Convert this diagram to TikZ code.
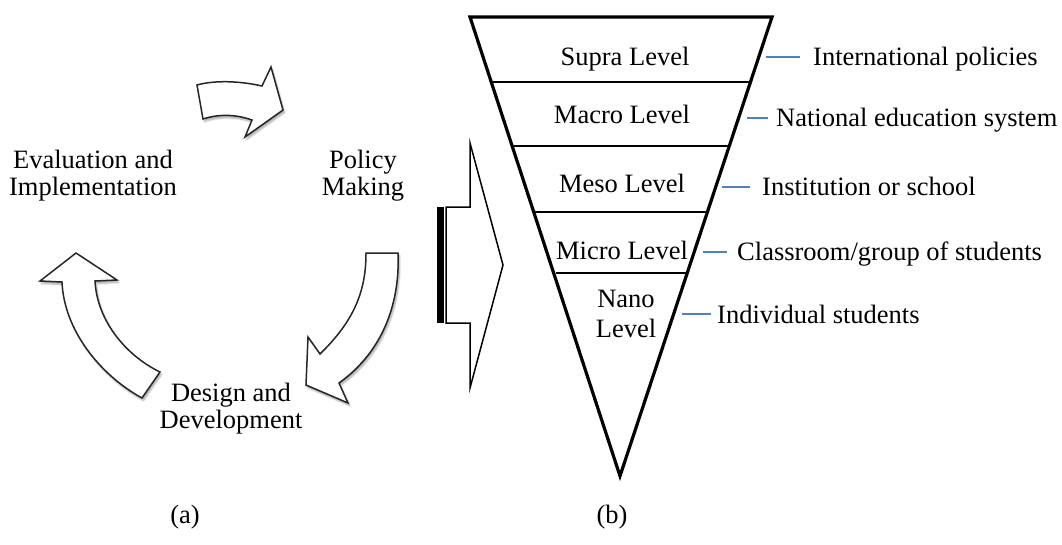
\documentclass[tikz,border=0pt]{standalone}
\usepackage{fontspec}
\setmainfont{Liberation Serif}
\usetikzlibrary{shadows.blur}
\definecolor{levelblue}{HTML}{4F81BD}
\begin{document}
\begin{tikzpicture}[x=1pt,y=-1pt,
  every node/.style={font=\fontsize{26.5}{27}\selectfont, inner sep=0pt},
  label/.style={anchor=base},
  sidelabel/.style={anchor=base west},
  cyclearrow/.style={draw=black!85, line width=1.5pt, fill=white, line join=miter,
    blur shadow={shadow xshift=1.5pt, shadow yshift=-2.5pt, shadow blur steps=6, shadow opacity=35}},
  blockarrow/.style={draw=black, line width=1.5pt, fill=white, line join=miter},
  funnel/.style={draw=black, line width=3.2pt, line join=miter},
  divider/.style={draw=black, line width=2pt},
  tick/.style={draw=levelblue, line width=1.5pt}
]
\useasboundingbox (0,0) rectangle (1062,544);

% ---------- (a) policy cycle ----------
% multi-line labels are placed by the baseline of their last line
\node[label, align=center] (evl) at (93,195) {Evaluation and\\Implementation};
\node[label, align=center] (pol) at (363,195) {Policy\\Making};
\node[label, align=center] (des) at (231,428) {Design and\\Development};

% upper arrow: evaluation -> policy making
\path[cyclearrow] (197,85) .. controls (215,80) and (240,81) .. (262,86)
  -- (271,67) -- (283,110) -- (245,137) -- (252,120)
  .. controls (235,114) and (218,114) .. (203,119) -- cycle;

% right arrow: policy making -> design
\path[cyclearrow] (366,253) -- (398,253)
  .. controls (400,300) and (385,350) .. (339,383)
  -- (348,403) -- (306,385) -- (308,337) -- (320,354)
  .. controls (355,320) and (366,290) .. (366,253) -- cycle;

% left arrow: design -> evaluation
\path[cyclearrow] (142,398) .. controls (100,375) and (64,330) .. (62,282)
  -- (40,281) -- (76,253) -- (117,280) -- (95,281)
  .. controls (97,320) and (125,355) .. (160,372) -- cycle;

\node[label] (capa) at (185,523) {(a)};

% ---------- block arrow between (a) and (b) ----------
\fill[black] (437,207) rectangle (443.5,323);
\path[blockarrow] (446,207) -- (470,207) -- (470,143) -- (503,265)
  -- (470,388) -- (470,323) -- (446,323) -- cycle;

% ---------- (b) levels funnel ----------
\path[funnel] (470,17) -- (772,17) -- (620,476) -- cycle;
\draw[divider] (492,82) -- (750,82);
\draw[divider] (513,146) -- (729,146);
\draw[divider] (535,212) -- (706,212);
\draw[divider] (556,273) -- (686,273);

\node[label] (supra) at (625,65) {Supra Level};
\node[label] (macro) at (622,123) {Macro Level};
\node[label] (meso)  at (622,192) {Meso Level};
\node[label] (micro) at (622,259) {Micro Level};
\node[label, align=center, font=\fontsize{26.5}{30}\selectfont] (nano) at (626,337) {Nano\\Level};

\node[sidelabel] (t1) at (813,65)  {International policies};
\node[sidelabel] (t2) at (776,126) {National education system};
\node[sidelabel] (t3) at (762,195) {Institution or school};
\node[sidelabel] (t4) at (737,260) {Classroom/group of students};
\node[sidelabel] (t5) at (717,323) {Individual students};

\coordinate (s1) at (766,57);  \draw[tick] (s1) -- ([xshift=-13pt]t1.west |- s1);
\coordinate (s2) at (747,118); \draw[tick] (s2) -- ([xshift=-8pt]t2.west |- s2);
\coordinate (s3) at (722,187); \draw[tick] (s3) -- ([xshift=-12pt]t3.west |- s3);
\coordinate (s4) at (703,252); \draw[tick] (s4) -- ([xshift=-10pt]t4.west |- s4);
\coordinate (s5) at (682,314); \draw[tick] (s5) -- ([xshift=-6pt]t5.west |- s5);

\node[label] (capb) at (612,523) {(b)};
\end{tikzpicture}
\end{document}
